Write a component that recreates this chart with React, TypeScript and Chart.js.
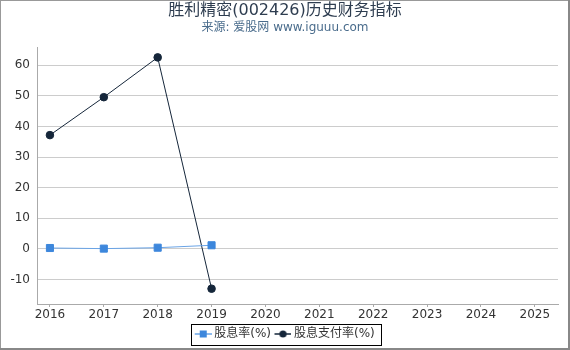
import React, { useEffect, useRef } from "react";
import { Chart, registerables } from "chart.js";

Chart.register(...registerables);

const years = [2016, 2017, 2018, 2019];
const dividendYield = [0.3, 0.1, 0.4, 1.2];
const payoutRatio = [37.2, 49.6, 62.6, -13.0];
const xTickYears = [2016, 2017, 2018, 2019, 2020, 2021, 2022, 2023, 2024, 2025];
const yTickValues = [-10, 0, 10, 20, 30, 40, 50, 60];
const seriesNames = ["股息率(%)", "股息支付率(%)"];
const titleText = "胜利精密(002426)历史财务指标";
const subtitleText = "来源: 爱股网 www.iguuu.com";

const FONT = "'DejaVu Sans', 'Noto Sans CJK SC', sans-serif";
const BLUE = "#3d87dc";
const BLUE_LINE = "#6aa4e6";
const DARK = "#15263a";

function makeMarker(kind: "rect" | "circle", color: string, lineColor: string) {
  const c = document.createElement("canvas");
  c.width = 20;
  c.height = 10;
  const g = c.getContext("2d")!;
  g.strokeStyle = lineColor;
  g.lineWidth = 1.5;
  g.beginPath();
  g.moveTo(3, 5);
  g.lineTo(20, 5);
  g.stroke();
  g.fillStyle = color;
  if (kind === "rect") {
    g.fillRect(8, 1.5, 7, 7);
  } else {
    g.beginPath();
    g.arc(11.5, 5, 3.6, 0, Math.PI * 2);
    g.fill();
  }
  return c;
}

const decorPlugin = {
  id: "decor",
  afterDraw(chart: any) {
    const ctx = chart.ctx as CanvasRenderingContext2D;
    ctx.save();
    ctx.textAlign = "center";
    ctx.textBaseline = "middle";
    ctx.fillStyle = "#2e3d50";
    ctx.font = `16px ${FONT}`;
    ctx.fillText(titleText, 285, 11);
    ctx.fillStyle = "#4a6c8c";
    ctx.font = `12px ${FONT}`;
    ctx.fillText(subtitleText, 285, 28);

    const boxes = chart.legend?.legendHitBoxes || [];
    if (boxes.length) {
      let l = Infinity, r = -Infinity, t = Infinity, b = -Infinity;
      for (const h of boxes) {
        l = Math.min(l, h.left);
        r = Math.max(r, h.left + h.width);
        t = Math.min(t, h.top);
        b = Math.max(b, h.top + h.height);
      }
      const cy = (t + b) / 2;
      ctx.strokeStyle = "#000";
      ctx.lineWidth = 1;
      const x0 = Math.round(l - 4) + 0.5;
      const x1 = Math.round(r + 6) + 0.5;
      const y0 = Math.round(cy - 10.5) + 0.5;
      ctx.strokeRect(x0, y0, x1 - x0, 21);
    }

    ctx.fillStyle = "#999";
    ctx.fillRect(0, 0, 570, 1);
    ctx.fillRect(0, 0, 1, 350);
    ctx.fillStyle = "#888";
    ctx.fillRect(568, 0, 2, 350);
    ctx.fillRect(0, 348, 570, 2);
    ctx.restore();
  },
};

export default function App() {
  const ref = useRef<HTMLCanvasElement>(null);
  useEffect(() => {
    if (!ref.current) return;
    const markers = [makeMarker("rect", BLUE, BLUE_LINE), makeMarker("circle", DARK, DARK)];
    const chart = new Chart(ref.current, {
      type: "line",
      data: {
        datasets: [
          {
            label: seriesNames[0],
            data: years.map((y, i) => ({ x: y, y: dividendYield[i] })),
            borderColor: BLUE_LINE,
            backgroundColor: BLUE,
            pointBackgroundColor: BLUE,
            pointBorderColor: BLUE,
            pointStyle: "rect",
            pointRadius: 5,
            borderWidth: 1,
          },
          {
            label: seriesNames[1],
            data: years.map((y, i) => ({ x: y, y: payoutRatio[i] })),
            borderColor: DARK,
            backgroundColor: DARK,
            pointBackgroundColor: DARK,
            pointBorderColor: DARK,
            pointStyle: "circle",
            pointRadius: 3.8,
            borderWidth: 1,
          },
        ],
      },
      options: {
        responsive: false,
        animation: false,
        layout: { padding: { left: 0, right: 0, top: 47, bottom: 0 } },
        scales: {
          x: {
            type: "linear",
            min: 2015.76,
            max: 2025.43,
            afterBuildTicks: (s: any) => {
              s.ticks = xTickYears.map((v) => ({ value: v }));
            },
            afterFit: (s: any) => {
              s.height = 20;
            },
            ticks: {
              stepSize: 1,
              autoSkip: false,
              maxRotation: 0,
              padding: 1,
              color: "#333",
              font: { family: FONT, size: 12 },
              callback: (v: any) => String(v),
            },
            grid: { drawOnChartArea: false, drawTicks: true, tickLength: 3, color: "#aaa" },
            border: { color: "#aaa" },
          },
          y: {
            min: -18,
            max: 66,
            afterBuildTicks: (s: any) => {
              s.ticks = yTickValues.map((v) => ({ value: v }));
            },
            afterFit: (s: any) => {
              s.width = 37;
            },
            ticks: {
              stepSize: 10,
              padding: 7,
              color: "#333",
              font: { family: FONT, size: 12 },
            },
            grid: { color: "#ccc", drawTicks: false },
            border: { color: "#aaa" },
          },
          yRight: {
            type: "linear",
            position: "right",
            display: true,
            afterBuildTicks: (s: any) => {
              s.ticks = [];
            },
            afterFit: (s: any) => {
              s.width = 12;
            },
            ticks: { display: false },
            grid: { display: false, drawTicks: false },
            border: { display: false },
          },
        },
        plugins: {
          title: { display: false },
          tooltip: { enabled: false },
          legend: {
            position: "bottom",
            labels: {
              usePointStyle: true,
              pointStyleWidth: 13,
              padding: 4,
              color: "#333",
              font: { family: FONT, size: 12 },
              generateLabels: (c: any) =>
                c.data.datasets.map((d: any, i: number) => ({
                  text: d.label,
                  fillStyle: d.backgroundColor,
                  strokeStyle: d.borderColor,
                  lineWidth: 0,
                  pointStyle: markers[i],
                  datasetIndex: i,
                  hidden: false,
                  fontColor: "#333",
                })),
            },
          },
        },
      },
      plugins: [decorPlugin],
    } as any);
    return () => chart.destroy();
  }, []);
  return (
    <div style={{ position: "fixed", left: 0, top: 0, width: 570, height: 350, background: "#fff" }}>
      <canvas ref={ref} width={570} height={350} style={{ display: "block" }} />
    </div>
  );
}
